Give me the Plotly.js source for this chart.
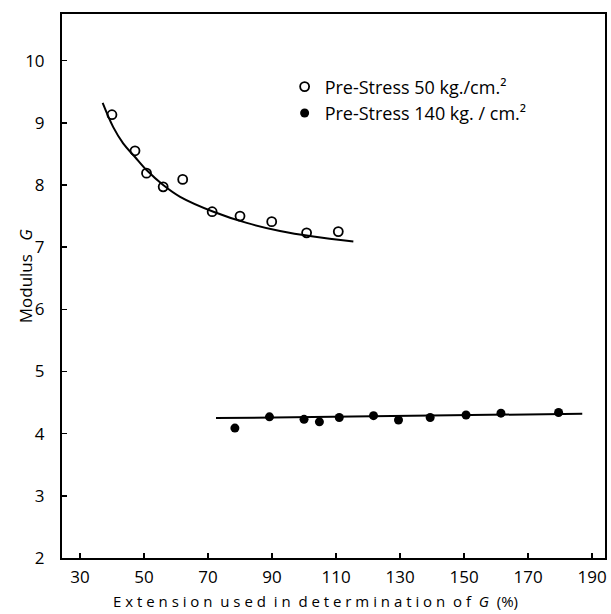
<!DOCTYPE html>
<html>
<head>
<meta charset="utf-8">
<script src="https://cdn.plot.ly/plotly-3.0.1.min.js"></script>
<style>html,body{margin:0;padding:0;background:#fff;}#chart{width:611px;height:614px;}</style>
</head>
<body>
<div id="chart"></div>
<script>
// Pre-Stress 50 kg/cm2 (open circles)
const ext50 = [40, 47.2, 50.8, 56.0, 62.1, 71.3, 80.0, 89.9, 100.8, 110.7];
const mod50 = [9.13, 8.55, 8.19, 7.97, 8.09, 7.57, 7.50, 7.41, 7.23, 7.25];
// fitted curve
const fit50x = [37.1, 40.4, 43.5, 47.2, 50.8, 56.0, 61.3, 71.7, 82.1, 92.5, 102.9, 115.4];
const fit50y = [9.32, 8.93, 8.67, 8.45, 8.24, 8.00, 7.81, 7.57, 7.39, 7.26, 7.17, 7.09];
// Pre-Stress 140 kg/cm2 (filled circles)
const ext140 = [78.4, 89.2, 100.0, 104.8, 111.0, 121.7, 129.5, 139.4, 150.6, 161.5, 179.5];
const mod140 = [4.09, 4.27, 4.23, 4.19, 4.26, 4.29, 4.22, 4.26, 4.30, 4.33, 4.34];
const fit140x = [72.5, 186.9];
const fit140y = [4.25, 4.32];

const xTicks = [30, 50, 70, 90, 110, 130, 150, 170, 190];
const yTicks = [2, 3, 4, 5, 6, 7, 8, 9, 10];
const label50 = "Pre-Stress 50 kg./cm.²";
const label140 = "Pre-Stress 140 kg. / cm.²";
const xTitle = "E x t e n s i o n&nbsp; u s e d&nbsp; i n&nbsp; d e t e r m i n a t i o n&nbsp; o f&nbsp; <i>G</i>&nbsp;&nbsp;(%)";
const yTitle = "Modulus&nbsp;&nbsp;&nbsp;<i>G</i>";

const FONT = "'Open Sans', sans-serif";

const traces = [
  {x: fit50x, y: fit50y, mode: 'lines', line: {color: '#000', width: 2, shape: 'spline'}, showlegend: false, hoverinfo: 'skip'},
  {x: fit140x, y: fit140y, mode: 'lines', line: {color: '#000', width: 2}, showlegend: false, hoverinfo: 'skip'},
  {x: ext50, y: mod50, mode: 'markers', name: label50,
   marker: {symbol: 'circle-open', size: 9, color: '#000', line: {color: '#000', width: 1.8}}},
  {x: ext140, y: mod140, mode: 'markers', name: label140,
   marker: {symbol: 'circle', size: 9, color: '#000'}}
];

const layout = {
  width: 611, height: 614,
  margin: {l: 62, r: 6, t: 14, b: 56},
  paper_bgcolor: '#fff', plot_bgcolor: '#fff',
  font: {family: FONT, size: 17, color: '#000'},
  showlegend: true,
  legend: {x: 0.41, y: 0.9, xanchor: 'left', yanchor: 'top', bgcolor: 'rgba(0,0,0,0)',
           font: {family: FONT, size: 18, color: '#000'}, itemwidth: 30, tracegroupgap: 0},
  xaxis: {
    range: [24.4, 194], tickvals: xTicks, ticktext: xTicks.map(String),
    ticks: 'inside', ticklen: 5, tickwidth: 1.5, tickcolor: '#000',
    showline: true, linecolor: '#000', linewidth: 2, mirror: true,
    showgrid: false, zeroline: false,
    tickfont: {family: FONT, size: 17},
    ticklabelstandoff: 3
  },
  yaxis: {
    range: [2, 10.75], tickvals: yTicks, ticktext: yTicks.map(String),
    ticks: 'inside', ticklen: 5, tickwidth: 1.5, tickcolor: '#000',
    showline: true, linecolor: '#000', linewidth: 2, mirror: true,
    showgrid: false, zeroline: false,
    tickfont: {family: FONT, size: 17},
    ticklabelstandoff: 12
  },
  annotations: [
    {text: xTitle, xref: 'paper', yref: 'paper', x: 0.466, y: -0.079, xanchor: 'center', yanchor: 'middle',
     showarrow: false, font: {family: FONT, size: 15, color: '#000'}},
    {text: yTitle, xref: 'paper', yref: 'paper', x: -0.068, y: 0.518, xanchor: 'center', yanchor: 'middle',
     textangle: -90, showarrow: false, font: {family: FONT, size: 17, color: '#000'}}
  ]
};

Plotly.newPlot('chart', traces, layout, {displayModeBar: false, staticPlot: true});
</script>
</body>
</html>
